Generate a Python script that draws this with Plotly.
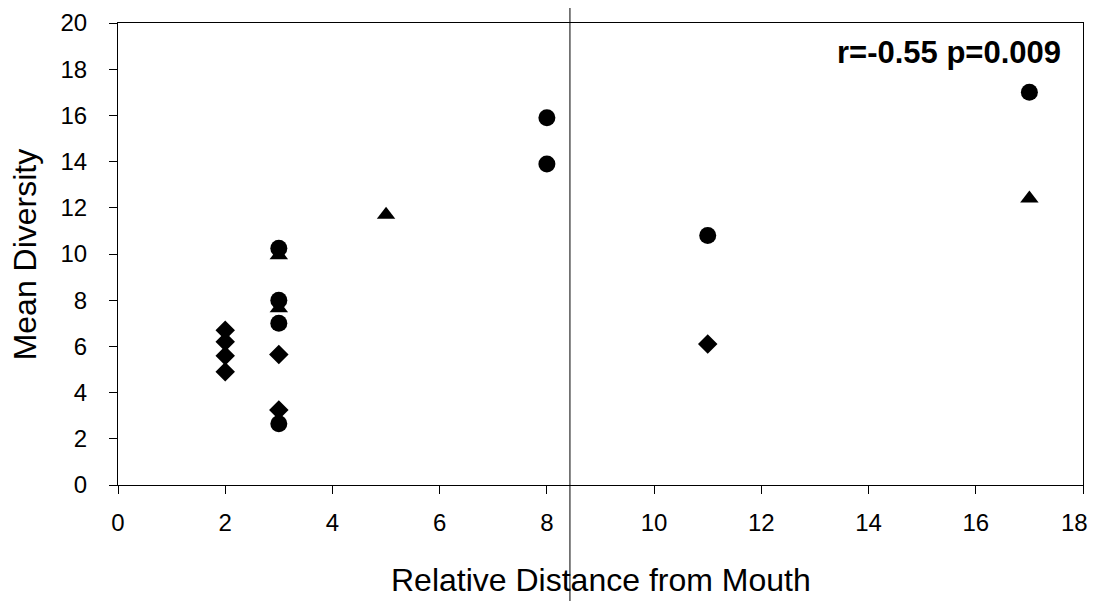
import plotly.graph_objects as go

# Data
circle_x = [3, 3, 3, 3, 8, 8, 11, 17]
circle_y = [10.25, 8.0, 7.0, 2.65, 15.9, 13.9, 10.8, 17.0]

triangle_x = [3, 3, 5, 17]
triangle_y = [9.95, 7.65, 11.7, 12.4]

diamond_x = [2, 2, 2, 2, 3, 3, 11]
diamond_y = [6.7, 6.2, 5.6, 4.9, 5.65, 3.25, 6.1]

x_ticks = [0, 2, 4, 6, 8, 10, 12, 14, 16, 18]
y_ticks = [0, 2, 4, 6, 8, 10, 12, 14, 16, 18, 20]

x_title = "Relative Distance from Mouth"
y_title = "Mean Diversity"
stats_text = "r=-0.55 p=0.009"

FONT = "Arial, Liberation Sans, sans-serif"

fig = go.Figure()
fig.add_trace(go.Scatter(x=triangle_x, y=triangle_y, mode="markers", name="triangles",
                         marker=dict(symbol="triangle-up", size=16, color="black")))
fig.add_trace(go.Scatter(x=diamond_x, y=diamond_y, mode="markers", name="diamonds",
                         marker=dict(symbol="diamond", size=15, color="black")))
fig.add_trace(go.Scatter(x=circle_x, y=circle_y, mode="markers", name="circles",
                         marker=dict(symbol="circle", size=17, color="black")))

fig.add_annotation(text="<b>" + stats_text + "</b>", xref="paper", yref="paper",
                   x=0.979, y=0.937, xanchor="right", yanchor="middle", showarrow=False,
                   font=dict(family=FONT, size=31, color="black"))

# axis titles
fig.add_annotation(text=x_title, xref="paper", yref="paper", x=0.5, y=-0.205,
                   xanchor="center", yanchor="middle", showarrow=False,
                   font=dict(family=FONT, size=32, color="black"))
fig.add_annotation(text=y_title, xref="paper", yref="paper", x=-0.096, y=0.5,
                   xanchor="center", yanchor="middle", showarrow=False, textangle=-90,
                   font=dict(family=FONT, size=32, color="black"))

# last x tick label, nudged left slightly so it stays inside the visible page
x_ticktext = [str(v) for v in x_ticks[:-1]] + [""]
fig.add_annotation(text=str(x_ticks[-1]), xref="x", yref="paper", x=x_ticks[-1], y=-0.082,
                   xanchor="center", yanchor="middle", xshift=-9, showarrow=False,
                   font=dict(family=FONT, size=24, color="black"))

# vertical rule crossing the whole picture (present in the reference)
fig.add_shape(type="line", xref="x", yref="paper", x0=8.43, x1=8.43, y0=-0.26, y1=1.06,
              line=dict(color="black", width=1))

fig.update_layout(
    width=1093, height=593,
    margin=dict(l=110, r=18, t=15, b=116, autoexpand=False),
    paper_bgcolor="white", plot_bgcolor="white",
    showlegend=False,
    font=dict(family=FONT, color="black"),
    xaxis=dict(range=[0, 18], tickvals=x_ticks, ticktext=x_ticktext, ticks="outside",
               ticklen=8, tickcolor="black",
               showline=True, linecolor="black", linewidth=1, mirror=True, showgrid=False,
               zeroline=False, tickfont=dict(size=24), ticklabelstandoff=8, automargin=False),
    yaxis=dict(range=[0, 20], tickvals=y_ticks, ticks="outside", ticklen=8, tickcolor="black",
               showline=True, linecolor="black", linewidth=1, mirror=True, showgrid=False,
               zeroline=False, tickfont=dict(size=24), ticklabelstandoff=17, automargin=False),
)

fig.write_html("out.html")
